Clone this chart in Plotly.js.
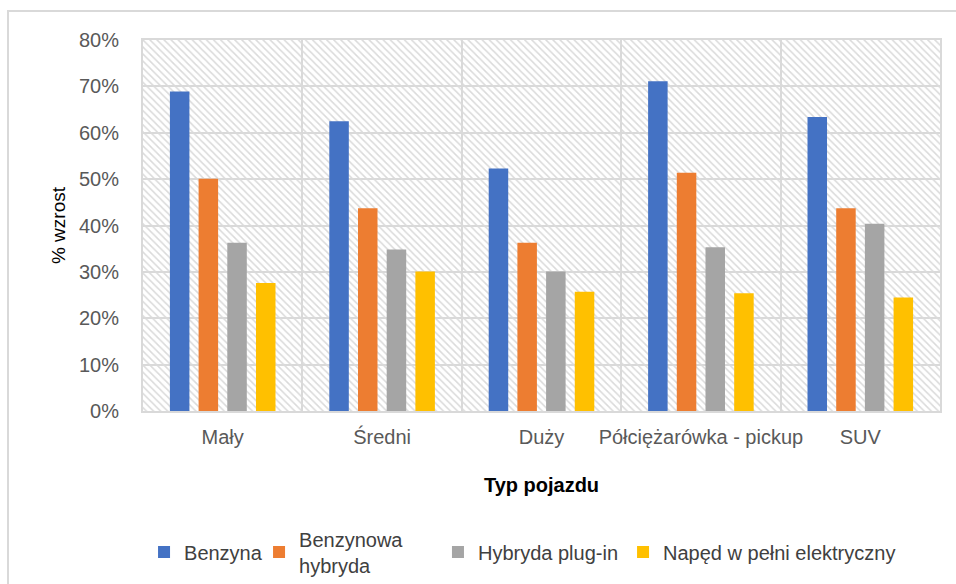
<!DOCTYPE html>
<html>
<head>
<meta charset="utf-8">
<script src="https://cdn.plot.ly/plotly-3.0.1.min.js"></script>
<style>
  html, body { margin: 0; padding: 0; background: #ffffff; }
  #wrap { position: relative; width: 956px; height: 584px; overflow: hidden; }
  #frame { position: absolute; left: 7px; top: 10px; width: 1000px; height: 700px;
           border-left: 2px solid #d9d9d9; border-top: 2px solid #d9d9d9; }
  #chart { position: absolute; left: 0; top: 0; width: 956px; height: 584px; }
</style>
</head>
<body>
<div id="wrap">
  <div id="frame"></div>
  <div id="chart"></div>
</div>
<script>
// Vehicle types (x categories)
const categories = ['Mały', 'Średni', 'Duży', 'Półciężarówka - pickup', 'SUV'];

// Series names
const seriesNames = ['Benzyna', 'Benzynowa<br>hybryda', 'Hybryda plug-in', 'Napęd w pełni elektryczny'];

// % increase per vehicle type, as fractions
const benzyna      = [0.689, 0.625, 0.523, 0.711, 0.634];
const hybryda      = [0.501, 0.437, 0.363, 0.514, 0.437];
const plugIn       = [0.363, 0.348, 0.301, 0.353, 0.404];
const elektryczny  = [0.276, 0.301, 0.257, 0.254, 0.245];

// Y axis ticks
const yTickVals = [0, 0.1, 0.2, 0.3, 0.4, 0.5, 0.6, 0.7, 0.8];
const yTickText = ['0%', '10%', '20%', '30%', '40%', '50%', '60%', '70%', '80%'];

const seriesValues = [benzyna, hybryda, plugIn, elektryczny];
const seriesColors = ['#4472C4', '#ED7D31', '#A5A5A5', '#FFC000'];
// the two-line entry gets its own legend box so every row is centred on one line
const seriesLegends = ['legend', 'legend2', 'legend3', 'legend3'];

const FONT = 'Liberation Sans, Arial, sans-serif';

// Hatched plot background: one transparent bar filling the whole plot area,
// on the base axis, so that the data (on the overlaid axis) stays on top.
const hatch = {
  type: 'bar',
  x: [0.5],
  y: [yTickVals[yTickVals.length - 1]],
  width: [1],
  xaxis: 'x',
  yaxis: 'y',
  showlegend: false,
  hoverinfo: 'skip',
  marker: {
    color: 'rgba(0,0,0,0)',
    line: { width: 0 },
    pattern: { shape: '\\', fgcolor: '#dadada', size: 5, solidity: 0.3 }
  }
};

const dataTraces = seriesValues.map((vals, i) => ({
  type: 'bar',
  name: seriesNames[i],
  x: categories,
  y: vals,
  xaxis: 'x2',
  yaxis: 'y',
  legend: seriesLegends[i],
  marker: { color: seriesColors[i], line: { width: 0 } },
  hoverinfo: 'x+y+name'
}));

const legendBase = {
  orientation: 'h',
  xanchor: 'left',
  yref: 'container',
  y: 0.055,
  yanchor: 'middle',
  font: { family: FONT, size: 20, color: '#404040' },
  bgcolor: 'rgba(0,0,0,0)',
  traceorder: 'normal',
  itemclick: false,
  itemdoubleclick: false
};

const layout = {
  width: 956,
  height: 584,
  margin: { l: 143, r: 16, t: 40, b: 173 },
  paper_bgcolor: 'rgba(0,0,0,0)',
  plot_bgcolor: '#ffffff',
  font: { family: FONT, size: 20, color: '#595959' },
  barmode: 'group',
  bargap: 0.28,
  bargroupgap: 0.32,
  xaxis: {
    range: [0, 1],
    visible: false,
    fixedrange: true
  },
  xaxis2: {
    type: 'category',
    overlaying: 'x',
    anchor: 'y',
    side: 'bottom',
    range: [-0.5, categories.length - 0.5],
    tickson: 'boundaries',
    ticks: '',
    tickangle: 0,
    automargin: false,
    showgrid: true,
    gridcolor: '#d9d9d9',
    gridwidth: 2,
    showline: true,
    mirror: true,
    linecolor: '#d9d9d9',
    linewidth: 2,
    ticklabelstandoff: 7,
    tickfont: { family: FONT, size: 20, color: '#595959' },
    title: {
      text: '<b>Typ pojazdu</b>',
      font: { family: FONT, size: 20, color: '#000000' },
      standoff: 31
    },
    fixedrange: true
  },
  yaxis: {
    range: [0, 0.8],
    tickvals: yTickVals,
    ticktext: yTickText,
    ticks: '',
    automargin: false,
    showgrid: true,
    gridcolor: '#d9d9d9',
    gridwidth: 2,
    zeroline: false,
    showline: true,
    mirror: true,
    linecolor: '#d9d9d9',
    linewidth: 2,
    ticklabelstandoff: 18,
    tickfont: { family: FONT, size: 20, color: '#595959' },
    title: {
      text: '% wzrost',
      font: { family: FONT, size: 19, color: '#000000' },
      standoff: 8
    },
    fixedrange: true
  },
  legend: Object.assign({}, legendBase, { x: 0.0013 }),
  legend2: Object.assign({}, legendBase, { x: 0.1456 }),
  legend3: Object.assign({}, legendBase, { x: 0.3701 }),
  showlegend: true
};

Plotly.newPlot('chart', [hatch].concat(dataTraces), layout, { displayModeBar: false, staticPlot: true });
</script>
</body>
</html>
